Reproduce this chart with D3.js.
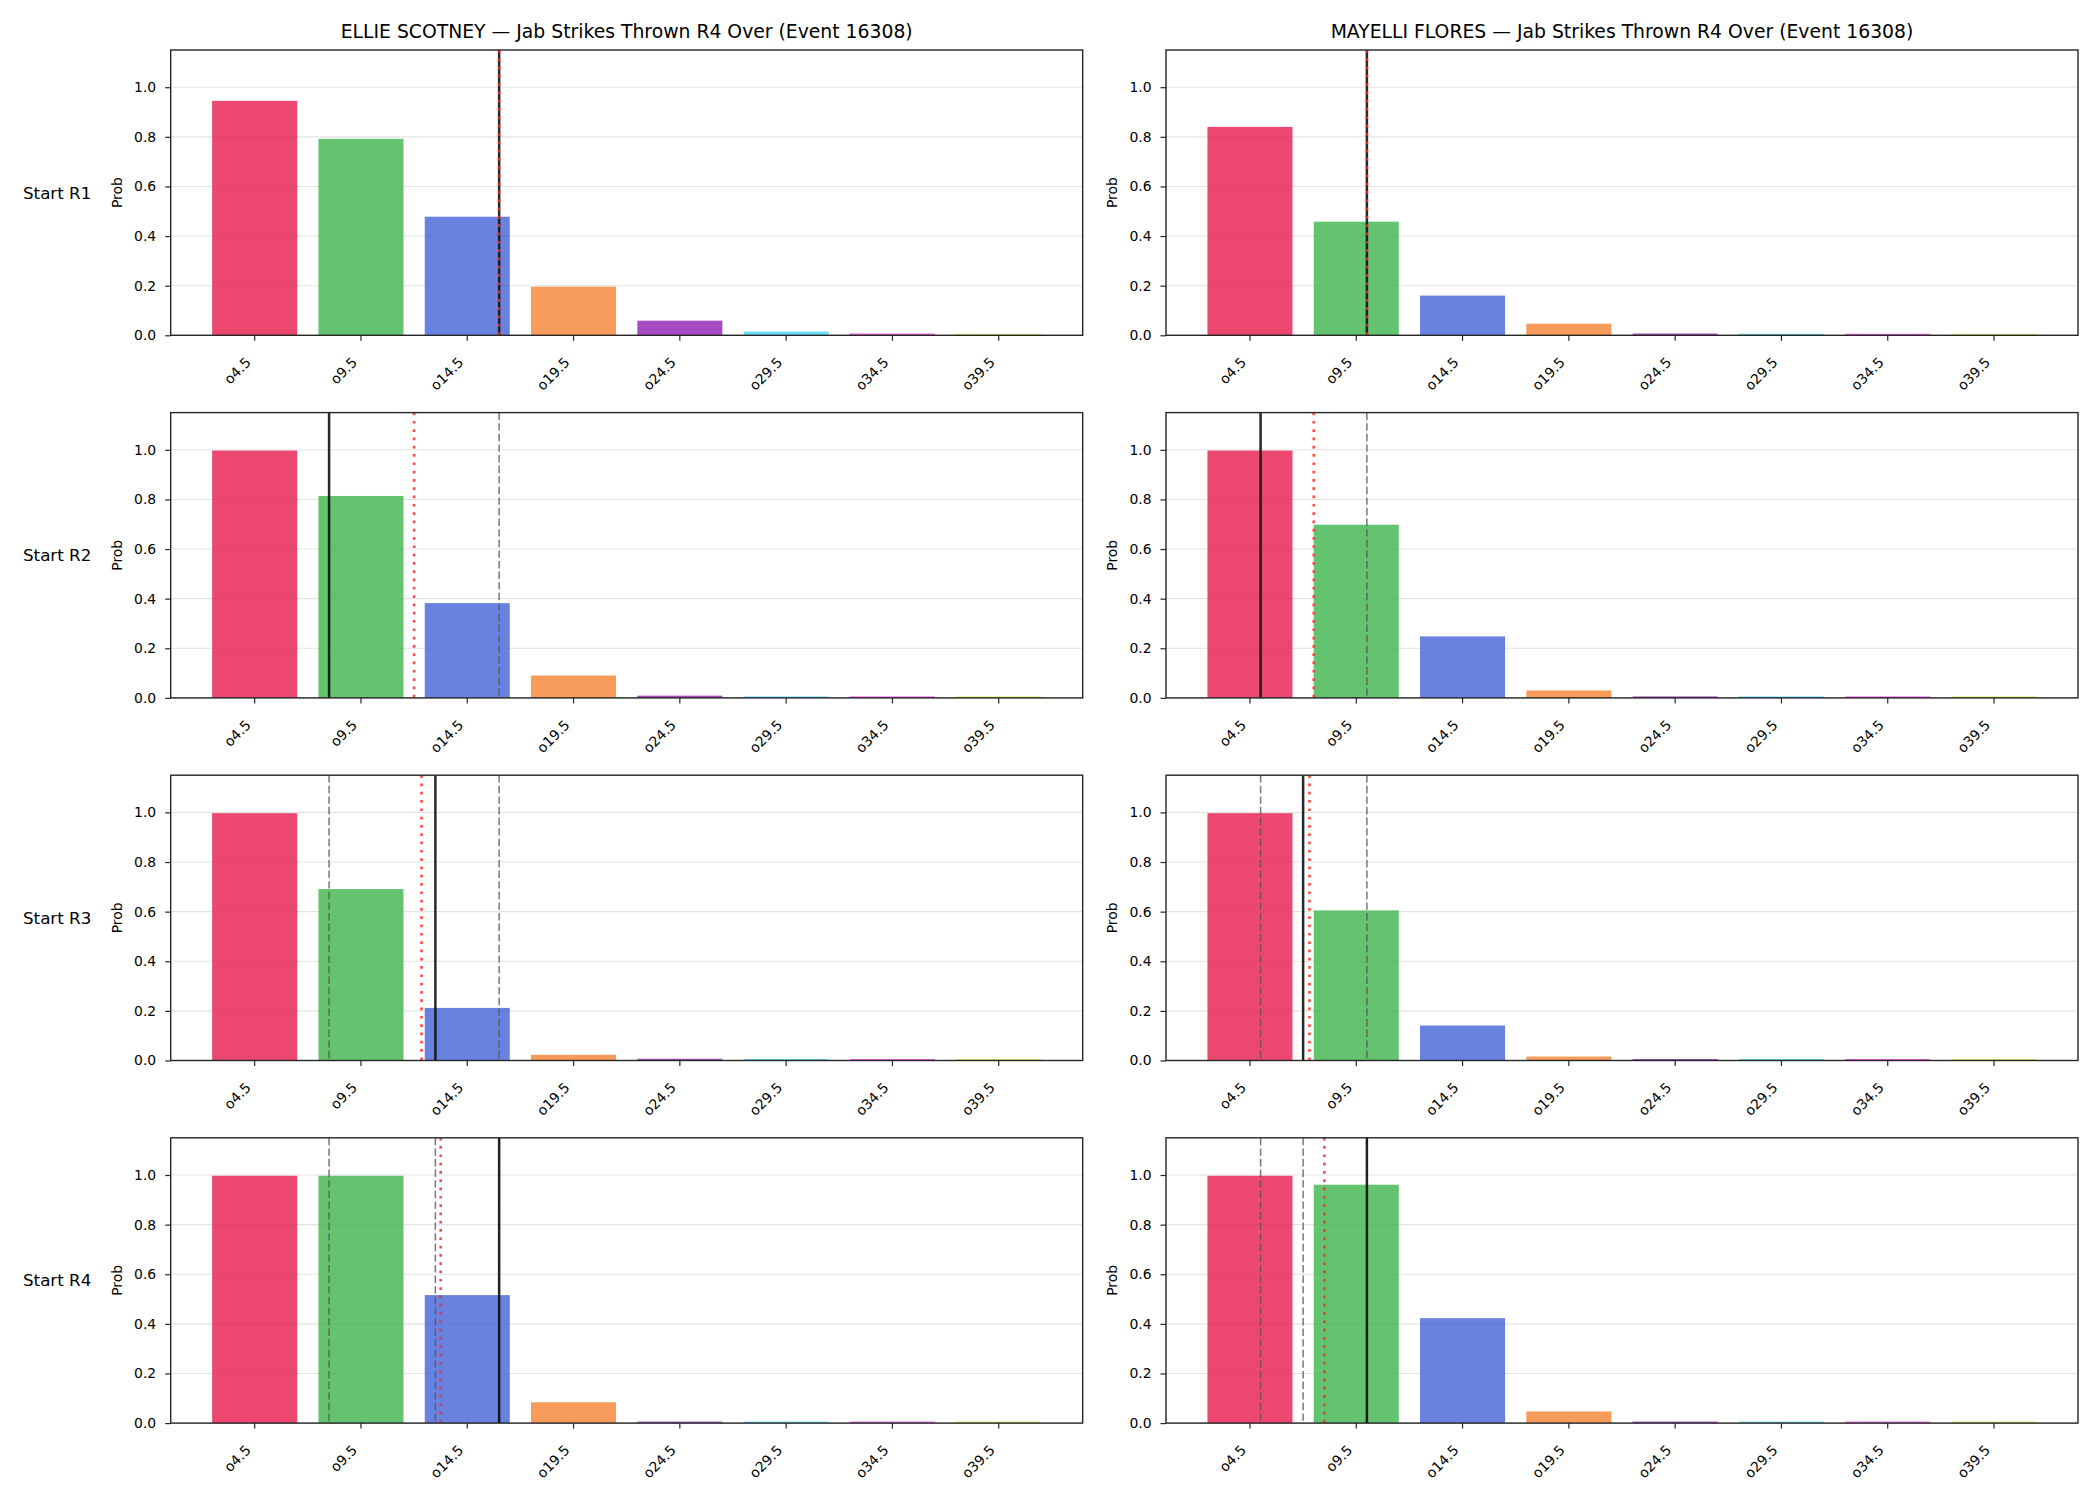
<!DOCTYPE html>
<html>
<head>
<meta charset="utf-8">
<script src="https://cdn.jsdelivr.net/npm/d3@7"></script>
<style>
  html, body { margin: 0; padding: 0; background: #ffffff; }
  svg { display: block; font-family: "DejaVu Sans", sans-serif; }
</style>
</head>
<body>
<svg id="chart" width="2100" height="1500"></svg>
<script>
// ---------------- data ----------------
const categories = ["o4.5", "o9.5", "o14.5", "o19.5", "o24.5", "o29.5", "o34.5", "o39.5"];
const thresholds = [4.5, 9.5, 14.5, 19.5, 24.5, 29.5, 34.5, 39.5];
const rowLabels = ["Start R1", "Start R2", "Start R3", "Start R4"];
const fighters = ["ELLIE SCOTNEY", "MAYELLI FLORES"];
const titleSuffix = " \u2014 Jab Strikes Thrown R4 Over (Event 16308)";
const yTicks = [0, 0.2, 0.4, 0.6, 0.8, 1.0];
const barColors = ["#e6194b", "#3cb44b", "#4363d8", "#f58231", "#911eb4", "#42d4f4", "#f032e6", "#bfef45"];

// probabilities per row (Start R1..R4)
const ellieProbs = [
  [0.945, 0.792, 0.478, 0.196, 0.059, 0.015, 0.007, 0.006],
  [0.997, 0.814, 0.382, 0.090, 0.009, 0.006, 0.006, 0.006],
  [0.997, 0.691, 0.212, 0.023, 0.007, 0.006, 0.006, 0.006],
  [0.997, 0.997, 0.516, 0.084, 0.006, 0.006, 0.006, 0.006]
];
const mayelliProbs = [
  [0.840, 0.458, 0.160, 0.047, 0.007, 0.006, 0.006, 0.006],
  [0.997, 0.698, 0.248, 0.030, 0.006, 0.006, 0.006, 0.006],
  [0.997, 0.605, 0.141, 0.016, 0.006, 0.006, 0.006, 0.006],
  [0.997, 0.961, 0.423, 0.047, 0.006, 0.006, 0.006, 0.006]
];
// vertical reference lines (in strike counts)
const ellieCurrent = [16, 8, 13, 16];      // solid black
const mayelliCurrent = [10, 5, 7, 10];
const ellieExpected = [16, 12.0, 12.35, 13.25];   // red dotted
const mayelliExpected = [10, 7.5, 7.3, 8.0];
// dashed grey lines = earlier rows' solid lines
const ellieEarlier = [[], [16], [16, 8], [16, 8, 13]];
const mayelliEarlier = [[], [10], [10, 5], [10, 5, 7]];

const panels = [
  { name: fighters[0], probs: ellieProbs, cur: ellieCurrent, exp: ellieExpected, prev: ellieEarlier },
  { name: fighters[1], probs: mayelliProbs, cur: mayelliCurrent, exp: mayelliExpected, prev: mayelliEarlier }
];

// ---------------- layout ----------------
const svg = d3.select("#chart");
svg.append("rect").attr("width", 2100).attr("height", 1500).attr("fill", "#fff");

const colLeft = [170.7, 1166];
const axW = 912;
const rowTop = [50, 412.6, 775.2, 1137.8];
const axH = 285.3;
const spineColor = "#262626";

panels.forEach((p, ci) => {
  const x0 = colLeft[ci];
  // column title
  svg.append("text")
    .attr("x", x0 + axW / 2).attr("y", 38)
    .attr("text-anchor", "middle")
    .attr("font-size", 18.8)
    .attr("fill", "#000")
    .text(p.name + titleSuffix);

  rowLabels.forEach((rl, ri) => {
    const y0 = rowTop[ri];
    const g = svg.append("g").attr("transform", `translate(${x0},${y0})`);

    const x = d3.scaleBand().domain(categories).range([0, axW]).paddingInner(0.2).paddingOuter(0.39);
    const cx = c => x(c) + x.bandwidth() / 2;
    const xv = d3.scaleLinear().domain([thresholds[0], thresholds[thresholds.length - 1]])
      .range([cx(categories[0]), cx(categories[categories.length - 1])]);
    const y = d3.scaleLinear().domain([0, 1.15]).range([axH, 0]);

    // grid
    g.selectAll("line.grid").data(yTicks).enter().append("line")
      .attr("x1", 0).attr("x2", axW)
      .attr("y1", d => y(d)).attr("y2", d => y(d))
      .attr("stroke", "#e3e3e3").attr("stroke-width", 1.1);

    // bars
    g.selectAll("rect.bar").data(p.probs[ri]).enter().append("rect")
      .attr("x", (d, i) => x(categories[i]))
      .attr("width", x.bandwidth())
      .attr("y", d => y(d))
      .attr("height", d => y(0) - y(d))
      .attr("fill", (d, i) => barColors[i])
      .attr("fill-opacity", 0.8);

    // dashed grey lines
    g.selectAll("line.prev").data(p.prev[ri]).enter().append("line")
      .attr("x1", d => xv(d)).attr("x2", d => xv(d))
      .attr("y1", 0).attr("y2", axH)
      .attr("stroke", "#555").attr("stroke-opacity", 0.8)
      .attr("stroke-width", 1.5)
      .attr("stroke-dasharray", "7.4,3.2");

    // solid black line
    g.append("line")
      .attr("x1", xv(p.cur[ri])).attr("x2", xv(p.cur[ri]))
      .attr("y1", 0).attr("y2", axH)
      .attr("stroke", "#111").attr("stroke-opacity", 0.9)
      .attr("stroke-width", 2.5);

    // red dotted line
    g.append("line")
      .attr("x1", xv(p.exp[ri])).attr("x2", xv(p.exp[ri]))
      .attr("y1", 0).attr("y2", axH)
      .attr("stroke", "#ff2a2a").attr("stroke-opacity", 0.85)
      .attr("stroke-width", 2.6)
      .attr("stroke-dasharray", "2.7,5.6");

    // y axis ticks & labels
    const yAxis = d3.axisLeft(y).tickValues(yTicks).tickFormat(d3.format(".1f")).tickSize(5.5).tickPadding(9);
    const ya = g.append("g").call(yAxis);
    ya.select(".domain").remove();
    ya.selectAll(".tick line").attr("stroke", spineColor).attr("stroke-width", 1.2);
    ya.selectAll(".tick text").attr("font-size", 13.9).attr("fill", "#000")
      .attr("font-family", "DejaVu Sans, sans-serif");

    // x axis ticks & labels
    const xAxis = d3.axisBottom(x).tickSize(5.5).tickPadding(0);
    const xa = g.append("g").attr("transform", `translate(0,${axH})`).call(xAxis);
    xa.select(".domain").remove();
    xa.selectAll(".tick line").attr("stroke", spineColor).attr("stroke-width", 1.2);
    xa.selectAll(".tick text")
      .attr("font-size", 13.9).attr("fill", "#000")
      .attr("font-family", "DejaVu Sans, sans-serif")
      .attr("text-anchor", "end")
      .attr("dy", 0).attr("y", 0)
      .attr("transform", "translate(-3,28) rotate(-45)");

    // frame
    g.append("rect")
      .attr("x", 0).attr("y", 0).attr("width", axW).attr("height", axH)
      .attr("fill", "none").attr("stroke", spineColor).attr("stroke-width", 1.4);

    // y label
    g.append("text")
      .attr("transform", `translate(-54,${axH / 2}) rotate(-90)`)
      .attr("text-anchor", "middle")
      .attr("dominant-baseline", "central")
      .attr("font-size", 13.9).attr("fill", "#000")
      .text("Prob");

    // row label (left column only)
    if (ci === 0) {
      svg.append("text")
        .attr("x", 23).attr("y", y0 + axH / 2)
        .attr("dominant-baseline", "central")
        .attr("font-size", 16.7).attr("fill", "#000")
        .text(rl);
    }
  });
});
</script>
</body>
</html>
